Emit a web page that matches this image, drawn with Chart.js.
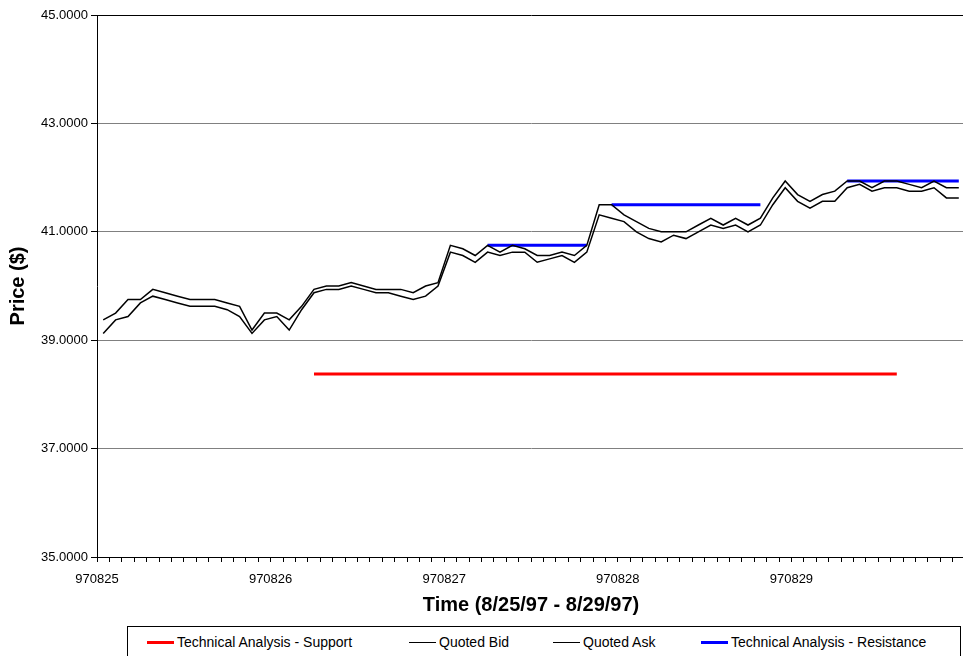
<!DOCTYPE html>
<html>
<head>
<meta charset="utf-8">
<script src="https://cdn.jsdelivr.net/npm/chart.js@4/dist/chart.umd.min.js"></script>
<style>
    html, body { margin: 0; padding: 0; background: #fff; overflow: hidden; }
    body { width: 963px; height: 656px; position: relative; font-family: Arial, "Liberation Sans", sans-serif; }
    #wrap { position: absolute; left: 0; top: 0; width: 975px; height: 622px; }
    #legend { position: absolute; left: 127px; top: 626px; width: 832px; height: 34px; border: 1px solid #000; background: #fff; }
    .item { position: absolute; top: 0; height: 30px; font-size: 14px; line-height: 30px; color: #000; white-space: nowrap; }
    .swatch { position: absolute; top: 14px; width: 27px; height: 3px; }
    .item span.txt { position: absolute; left: 30px; top: 0; }
</style>
</head>
<body>
<div id="wrap"><canvas id="priceChart"></canvas></div>
<div id="legend"></div>

<script>
// Day labels on the time axis (one every 14 quotes)
const dayLabels = ['970825', '970826', '970827', '970828', '970829'];
const quotesPerDay = 14;

// Quoted ask (upper black line)
const askPrices = [
    39.375, 39.5, 39.75, 39.75, 39.9375, 39.875, 39.8125, 39.75, 39.75, 39.75,
    39.6875, 39.625, 39.1875, 39.5, 39.5, 39.375, 39.625, 39.9375, 40.0, 40.0,
    40.0625, 40.0, 39.9375, 39.9375, 39.9375, 39.875, 40.0, 40.0625, 40.75, 40.6875,
    40.5625, 40.75, 40.625, 40.75, 40.6875, 40.5625, 40.5625, 40.625, 40.5625, 40.75,
    41.5, 41.5, 41.3125, 41.1875, 41.0625, 41.0, 41.0, 41.0, 41.125, 41.25,
    41.125, 41.25, 41.125, 41.25, 41.625, 41.9375, 41.6875, 41.5625, 41.6875, 41.75,
    41.9375, 41.9375, 41.8125, 41.9375, 41.9375, 41.875, 41.8125, 41.9375, 41.8125, 41.8125
];

// Quoted bid (lower black line)
const bidPrices = [
    39.125, 39.375, 39.4375, 39.6875, 39.8125, 39.75, 39.6875, 39.625, 39.625, 39.625,
    39.5625, 39.4375, 39.125, 39.375, 39.4375, 39.1875, 39.5625, 39.875, 39.9375, 39.9375,
    40.0, 39.9375, 39.875, 39.875, 39.8125, 39.75, 39.8125, 40.0, 40.625, 40.5625,
    40.4375, 40.625, 40.5625, 40.625, 40.625, 40.4375, 40.5, 40.5625, 40.4375, 40.625,
    41.3125, 41.25, 41.1875, 41.0, 40.875, 40.8125, 40.9375, 40.875, 41.0, 41.125,
    41.0625, 41.125, 41.0, 41.125, 41.5, 41.8125, 41.5625, 41.4375, 41.5625, 41.5625,
    41.8125, 41.875, 41.75, 41.8125, 41.8125, 41.75, 41.75, 41.8125, 41.625, 41.625
];

// Technical analysis levels: [first quote index, last quote index, price]
const supportLevels = [
    [17, 64, 38.375]
];
const resistanceLevels = [
    [31, 39, 40.75],
    [41, 53, 41.5],
    [60, 69, 41.9375]
];

// Y axis ticks
const priceMin = 35;
const priceMax = 45;
const priceStep = 2;

// Turn a price list into points centred in each quote slot
function toPoints(prices) {
    return prices.map((p, i) => ({ x: i + 0.5, y: p }));
}

// Turn level segments into one broken line
function levelPoints(levels) {
    const pts = [];
    levels.forEach((lv, k) => {
        if (k > 0) pts.push({ x: lv[0], y: null });
        pts.push({ x: lv[0] + 0.5, y: lv[2] });
        pts.push({ x: lv[1] + 0.5, y: lv[2] });
    });
    return pts;
}

const legendItems = [
    { label: 'Technical Analysis - Support', color: '#ff0000', h: 3, left: 19 },
    { label: 'Quoted Bid', color: '#000000', h: 1, left: 281 },
    { label: 'Quoted Ask', color: '#000000', h: 1, left: 425 },
    { label: 'Technical Analysis - Resistance', color: '#0000ff', h: 3, left: 573 }
];

function buildLegend() {
    const box = document.getElementById('legend');
    legendItems.forEach(it => {
        const d = document.createElement('div');
        d.className = 'item';
        d.style.left = it.left + 'px';
        const sw = document.createElement('div');
        sw.className = 'swatch';
        sw.style.background = it.color;
        sw.style.height = it.h + 'px';
        sw.style.top = (15 - Math.floor(it.h / 2)) + 'px';
        const t = document.createElement('span');
        t.className = 'txt';
        t.textContent = it.label;
        d.appendChild(sw);
        d.appendChild(t);
        box.appendChild(d);
    });
}

function createChart() {
    const ctx = document.getElementById('priceChart').getContext('2d');
    const totalQuotes = askPrices.length;
    const tickFont = { family: 'Arial, "Liberation Sans"', size: 13 };
    const titleFont = { family: 'Arial, "Liberation Sans"', size: 20, weight: 'bold' };

    new Chart(ctx, {
        type: 'line',
        data: {
            datasets: [
                {
                    label: 'Technical Analysis - Support',
                    data: levelPoints(supportLevels),
                    borderColor: '#ff0000',
                    borderWidth: 3,
                    pointRadius: 0,
                    spanGaps: false
                },
                {
                    label: 'Quoted Bid',
                    data: toPoints(bidPrices),
                    borderColor: '#000000',
                    borderWidth: 1.5,
                    pointRadius: 0,
                    tension: 0
                },
                {
                    label: 'Quoted Ask',
                    data: toPoints(askPrices),
                    borderColor: '#000000',
                    borderWidth: 1.5,
                    pointRadius: 0,
                    tension: 0
                },
                {
                    label: 'Technical Analysis - Resistance',
                    data: levelPoints(resistanceLevels),
                    borderColor: '#0000ff',
                    borderWidth: 3,
                    pointRadius: 0,
                    spanGaps: false
                }
            ]
        },
        options: {
            responsive: true,
            maintainAspectRatio: false,
            animation: false,
            layout: { padding: { left: 0, right: 3, top: 15, bottom: 0 } },
            plugins: {
                legend: { display: false },
                tooltip: { enabled: false }
            },
            scales: {
                x: {
                    type: 'linear',
                    min: 0,
                    max: totalQuotes,
                    afterFit: scale => { scale.height = 65; },
                    ticks: {
                        stepSize: 1,
                        autoSkip: false,
                        maxTicksLimit: 200,
                        maxRotation: 0,
                        padding: 10,
                        color: '#000',
                        font: tickFont,
                        callback: v => (v % quotesPerDay === 0 && dayLabels[v / quotesPerDay]) ? dayLabels[v / quotesPerDay] : ''
                    },
                    grid: {
                        drawOnChartArea: false,
                        drawTicks: true,
                        tickLength: 5,
                        tickColor: '#000'
                    },
                    border: { color: '#000', width: 1 },
                    title: {
                        display: true,
                        text: 'Time (8/25/97 - 8/29/97)',
                        color: '#000',
                        font: titleFont,
                        padding: { top: 0, bottom: 5 }
                    }
                },
                y: {
                    min: priceMin,
                    max: priceMax,
                    afterFit: scale => { scale.width = 97; },
                    ticks: {
                        stepSize: priceStep,
                        padding: 3,
                        color: '#000',
                        font: tickFont,
                        callback: v => v.toFixed(4)
                    },
                    grid: {
                        color: c => (c.tick && c.tick.value === priceMax) ? '#000' : '#808080',
                        lineWidth: 1,
                        tickLength: 6,
                        tickColor: '#000'
                    },
                    border: { color: '#000', width: 1 },
                    title: {
                        display: true,
                        text: 'Price ($)',
                        color: '#000',
                        font: titleFont,
                        padding: { top: 6, bottom: 0 }
                    }
                }
            }
        }
    });
}

document.addEventListener('DOMContentLoaded', () => {
    buildLegend();
    createChart();
});
</script>
</body>
</html>
